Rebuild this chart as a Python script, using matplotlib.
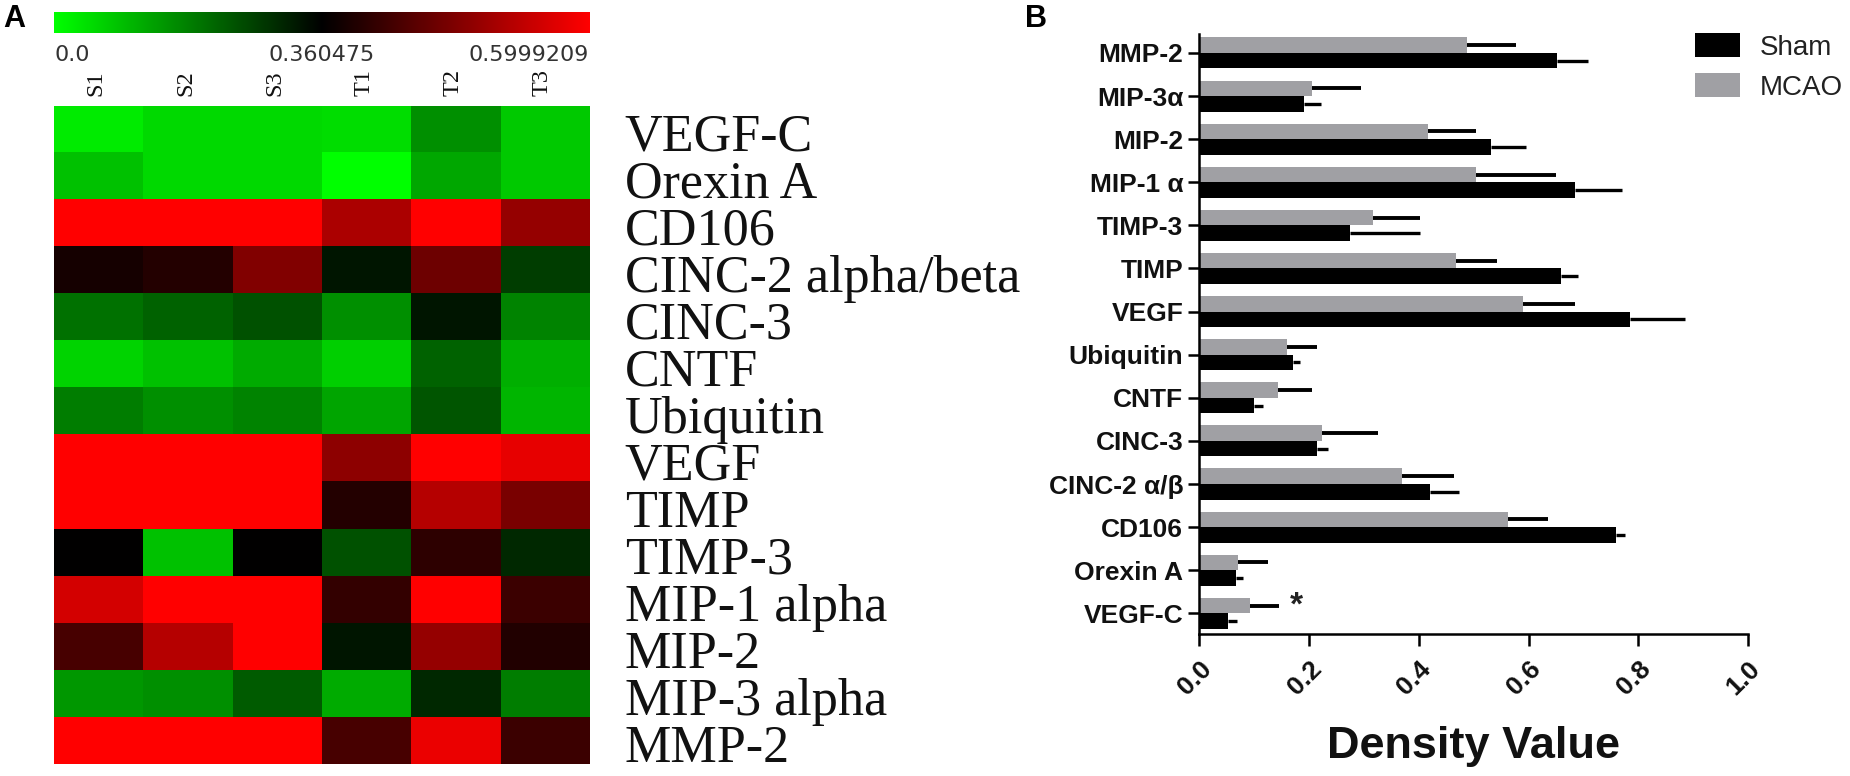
#!/usr/bin/env python
import numpy as np
import matplotlib
matplotlib.use("Agg")
import matplotlib.pyplot as plt
from matplotlib.colors import LinearSegmentedColormap, TwoSlopeNorm

W, H = 1850.0, 776.0

samples = ["S1", "S2", "S3", "T1", "T2", "T3"]
heatLabels = ["VEGF-C", "Orexin A", "CD106", "CINC-2 alpha/beta", "CINC-3", "CNTF", "Ubiquitin",
              "VEGF", "TIMP", "TIMP-3", "MIP-1 alpha", "MIP-2", "MIP-3 alpha", "MMP-2"]
heatVals = [
    [0.03, 0.055, 0.055, 0.05, 0.16, 0.078],
    [0.09, 0.055, 0.055, 0.0, 0.125, 0.078],
    [0.60, 0.60, 0.60, 0.52, 0.60, 0.50],
    [0.38, 0.393, 0.48, 0.33, 0.463, 0.275],
    [0.20, 0.22, 0.247, 0.16, 0.33, 0.176],
    [0.064, 0.09, 0.12, 0.07, 0.22, 0.113],
    [0.184, 0.16, 0.176, 0.127, 0.24, 0.106],
    [0.60, 0.60, 0.60, 0.492, 0.60, 0.576],
    [0.60, 0.60, 0.60, 0.393, 0.53, 0.473],
    [0.36, 0.09, 0.36, 0.247, 0.402, 0.303],
    [0.557, 0.60, 0.60, 0.407, 0.60, 0.416],
    [0.426, 0.53, 0.60, 0.33, 0.50, 0.39],
    [0.148, 0.16, 0.233, 0.12, 0.303, 0.184],
    [0.60, 0.60, 0.60, 0.426, 0.58, 0.416],
]

# bottom to top, same order as the axis in panel B
barLabels = ["VEGF-C", "Orexin A", "CD106", "CINC-2 \u03b1/\u03b2", "CINC-3", "CNTF", "Ubiquitin",
             "VEGF", "TIMP", "TIMP-3", "MIP-1 \u03b1", "MIP-2", "MIP-3\u03b1", "MMP-2"]
shamMean = [0.053, 0.067, 0.760, 0.420, 0.215, 0.099, 0.170, 0.785, 0.660, 0.275, 0.685, 0.532, 0.190, 0.652]
shamErr = [0.016, 0.013, 0.015, 0.053, 0.020, 0.017, 0.014, 0.100, 0.030, 0.127, 0.085, 0.063, 0.032, 0.056]
mcaoMean = [0.092, 0.071, 0.562, 0.369, 0.224, 0.143, 0.160, 0.590, 0.468, 0.317, 0.504, 0.417, 0.205, 0.487]
mcaoErr = [0.054, 0.055, 0.073, 0.096, 0.101, 0.062, 0.054, 0.095, 0.075, 0.085, 0.146, 0.088, 0.090, 0.090]

plt.rcParams['font.family'] = ['Liberation Sans', 'DejaVu Sans']


def axesPx(fig, left, top, right, bottom):
    return fig.add_axes([left / W, 1 - bottom / H, (right - left) / W, (bottom - top) / H])


fig = plt.figure(figsize=(18.5, 7.76), dpi=100)
cmap = LinearSegmentedColormap.from_list("gbr", ["#00ff00", "#000000", "#ff0000"])
norm = TwoSlopeNorm(vmin=0.0, vcenter=0.36, vmax=0.6)

# Panel A - colour strip
axBar = axesPx(fig, 54.3, 11.5, 589.7, 33)
axBar.imshow(np.linspace(0, 1, 256).reshape(1, -1), cmap=cmap, aspect="auto")
axBar.axis("off")
for x, lab, ha in [(55, "0.0", "left"), (322, "0.360475", "center"), (589, "0.5999209", "right")]:
    fig.text(x / W, 1 - 55 / H, lab, ha=ha, va="center", fontsize=16,
             family="DejaVu Sans", color="#333333")

# Panel A - heat map
axHeat = axesPx(fig, 54.3, 106, 589.7, 764.3)
axHeat.imshow(np.array(heatVals), cmap=cmap, norm=norm, aspect="auto", interpolation="nearest")
axHeat.set_yticks([])
axHeat.xaxis.tick_top()
axHeat.set_xticks(np.arange(len(samples)) - 0.03)
axHeat.set_xticklabels(samples, rotation=90, family="Liberation Serif", fontsize=17.5,
                       color="#111111", va="bottom", ha="center")
axHeat.tick_params(axis="x", length=0, pad=7.5)
for s in axHeat.spines.values():
    s.set_visible(False)
for row, lab in enumerate(heatLabels):
    axHeat.text(5.894, row + 0.45, lab, family="Liberation Serif", fontsize=37.5,
                color="#111111", ha="left", va="baseline", clip_on=False)

# Panel B - bars
axB = axesPx(fig, 1199.3, 34, 1748, 633.7)
y = np.arange(len(barLabels))
barH = 0.36
errSham = dict(ecolor="black", elinewidth=2.4, capsize=0)
errMcao = dict(ecolor="black", elinewidth=2.8, capsize=0)
hSham = axB.barh(y - barH / 2, shamMean, barH, color="black", xerr=[np.zeros(len(y)), shamErr],
                 error_kw=errSham, label="Sham")
hMcao = axB.barh(y + barH / 2, mcaoMean, barH, color="#a0a0a4", xerr=[np.zeros(len(y)), mcaoErr],
                 error_kw=errMcao, label="MCAO")
axB.set_xlim(0, 1.0)
axB.set_ylim(-0.473, 13.44)
axB.set_yticks(y)
axB.set_yticklabels(barLabels, fontsize=19, fontweight="bold", color="#111111")
axB.set_xticks([0.0, 0.2, 0.4, 0.6, 0.8, 1.0])
axB.set_xticklabels(["0.0", "0.2", "0.4", "0.6", "0.8", "1.0"], rotation=45, ha="right",
                    va="top", rotation_mode="anchor", fontsize=19, fontweight="bold", color="#111111")
axB.tick_params(axis="y", length=8, width=1.8, pad=3.6)
axB.tick_params(axis="x", length=8.5, width=1.8, pad=8)
axB.spines["top"].set_visible(False)
axB.spines["right"].set_visible(False)
axB.spines["left"].set_linewidth(1.8)
axB.spines["bottom"].set_linewidth(1.8)
axB.set_xlabel("Density Value", fontsize=32.5, fontweight="bold", color="#111111", va="baseline")
axB.xaxis.set_label_coords(0.5, -0.207)
axB.text(0.177, 0.162, "*", fontsize=24, fontweight="bold", ha="center", va="center", color="#222222")

fig.legend(handles=[hSham, hMcao], labels=["Sham", "MCAO"], loc="upper left",
           bbox_to_anchor=(1676 / W, 1 - 14 / H), frameon=False, fontsize=20,
           handlelength=1.6, handleheight=0.95, handletextpad=0.72, labelspacing=0.45,
           borderpad=0.2, labelcolor="#222222")

fig.text(3 / W, 1 - 27 / H, "A", fontsize=22, fontweight="bold", ha="left", va="baseline")
fig.text(1025 / W, 1 - 27 / H, "B", fontsize=22, fontweight="bold", ha="left", va="baseline")

fig.savefig("out.png", dpi=100)
